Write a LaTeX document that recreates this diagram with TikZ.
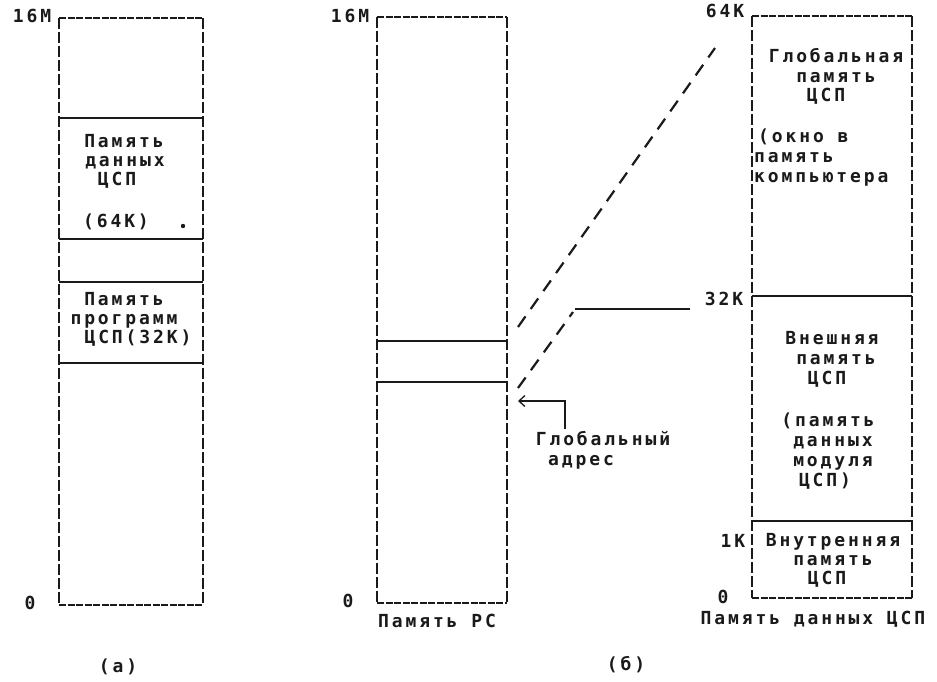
\documentclass[tikz,border=0pt]{standalone}
\usepackage{fontspec}
\usetikzlibrary{arrows.meta}
\newfontfamily\dmfont[LetterSpace=16]{DejaVu Sans Mono}
\definecolor{inkc}{HTML}{1A1A1A}
\tikzset{
  lbl/.style={font=\fontsize{18}{20}\dmfont\bfseries, inner sep=0pt, text=inkc,
              text height=0.66em, text depth=0.3em},
  side/.style={draw=inkc, line width=1.6pt, dash pattern=on 11pt off 3pt},
  rulel/.style={draw=inkc, line width=1.1pt},
  edgel/.style={draw=inkc, line width=1.1pt, dash pattern=on 7pt off 1.5pt},
  diag/.style={draw=inkc, line width=2.2pt, dash pattern=on 13pt off 9pt},
  ptr/.style={draw=inkc, line width=1.3pt, -{Straight Barb[length=6pt,width=11pt]}},
}
\begin{document}
\begin{tikzpicture}[x=1pt,y=-1pt]
\useasboundingbox[fill=white] (0,0) rectangle (937,681);

% ---------- (a) left column ----------
\draw[side] (59,18) -- (59,605);
\draw[side] (203,18) -- (203,605);
\draw[edgel] (59,18) -- (203,18);
\draw[edgel] (59,605) -- (203,605);
\foreach \yy in {118,239,282,363} \draw[rulel] (59,\yy) -- (203,\yy);

\node[lbl] (l16M) at (32,21) {16M};
\node[lbl] (l0) at (30,608) {0};
\node[lbl] (la) at (118,671) {(a)};
\node[lbl] (lt1) at (124,146) {Память};
\node[lbl] (lt2) at (125,165) {данных};
\node[lbl] (lt3) at (117,184) {ЦСП};
\node[lbl] (lt4) at (116,226) {(64K)};
\fill[inkc] (183,226) circle (2.2pt);
\node[lbl] (lt5) at (124,304) {Память};
\node[lbl] (lt6) at (124,323) {программ};
\node[lbl] (lt7) at (138,342) {ЦСП(32K)};

% ---------- (b) middle column ----------
\draw[side] (377,17) -- (377,603);
\draw[side] (507,17) -- (507,603);
\draw[edgel] (377,17) -- (507,17);
\draw[edgel] (377,603) -- (507,603);
\foreach \yy in {341,382} \draw[rulel] (377,\yy) -- (507,\yy);

\node[lbl] (m16M) at (350,21) {16M};
\node[lbl] (m0) at (348,606) {0};
\node[lbl] (mcap) at (437,626) {Память PC};
\node[lbl] (lb) at (626,669) {(б)};
\node[lbl] (ga1) at (603,444) {Глобальный};
\node[lbl] (ga2) at (581,464) {адрес};

% ---------- right column ----------
\draw[side] (752,16) -- (752,598);
\draw[side] (912,16) -- (912,598);
\draw[edgel] (752,16) -- (912,16);
\draw[edgel] (752,598) -- (912,598);
\foreach \yy in {296,521} \draw[rulel] (752,\yy) -- (912,\yy);

\node[lbl] (r64) at (725,16) {64K};
\node[lbl] (r32) at (724,304) {32K};
\node[lbl] (r1) at (733,546) {1K};
\node[lbl] (r0) at (723,602) {0};
\node[lbl] (rcap) at (813,623) {Память данных ЦСП};

\node[lbl] (g1) at (836,61) {Глобальная};
\node[lbl] (g2) at (836,81) {память};
\node[lbl] (g3) at (826,100) {ЦСП};
\node[lbl, anchor=west] (g4) at (758,141) {(окно в};
\node[lbl, anchor=west] (g5) at (754,161) {память};
\node[lbl, anchor=west] (g6) at (754,181) {компьютера};

\node[lbl] (e1) at (832,343) {Внешняя};
\node[lbl] (e2) at (836,363) {память};
\node[lbl] (e3) at (827,383) {ЦСП};
\node[lbl] (e4) at (828,425) {(память};
\node[lbl] (e5) at (833,445) {данных};
\node[lbl] (e6) at (833,465) {модуля};
\node[lbl] (e7) at (825,485) {ЦСП)};

\node[lbl] (i1) at (833,545) {Внутренняя};
\node[lbl] (i2) at (833,564) {память};
\node[lbl] (i3) at (827,583) {ЦСП};

% ---------- mapping lines ----------
\coordinate (u0) at (518,327);
\coordinate (u1) at (715,48);
\coordinate (w0) at (518,388);
\coordinate (w1) at (573,312);
\coordinate (h0) at (575,309);
\coordinate (h1) at (690,309);
\draw[diag] (u0) -- (u1);
\draw[diag] (w0) -- (w1);
\draw[rulel, line width=1.4pt] (h0) -- (h1);

\coordinate (pstart) at (565,429);
\coordinate (ptip) at (518,401);
\draw[ptr] (pstart) |- (ptip);
\end{tikzpicture}
\end{document}
